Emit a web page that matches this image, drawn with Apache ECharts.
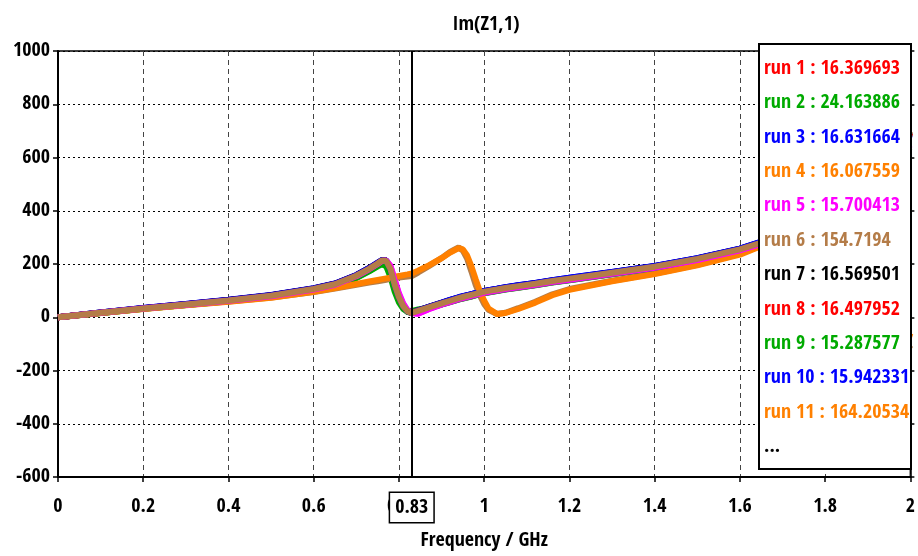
<!DOCTYPE html>
<html>
<head>
<meta charset="utf-8">
<script src="https://cdn.jsdelivr.net/npm/echarts@6/dist/echarts.min.js"></script>
<style>
  html, body { margin: 0; padding: 0; background: #fff; }
  #chart { width: 918px; height: 556px; }
</style>
</head>
<body>
<div id="chart"></div>
<script>
// Parameter sweep of Im(Z1,1) versus frequency; one curve per run.
const FONT = '"Open Sans Condensed", "Roboto Condensed", "Liberation Sans Narrow", sans-serif';

const freqGHz = [0, 0.1, 0.2, 0.3, 0.4, 0.5, 0.6, 0.65, 0.7, 0.73, 0.75, 0.76, 0.77, 0.78, 0.79, 0.8,
  0.81, 0.82, 0.83, 0.845, 0.87, 0.9, 0.92, 0.94, 0.95, 0.96, 0.97, 0.98, 0.99, 1.0, 1.01, 1.03,
  1.05, 1.08, 1.12, 1.16, 1.2, 1.3, 1.4, 1.5, 1.6, 1.7, 1.8, 1.86, 1.9, 1.93, 1.96, 2.0];

// Im(Z1,1) per run, same sample points as freqGHz
const run1 = [0, 17, 34, 49, 64, 82, 107, 125, 157, 183, 203, 213, 212, 181, 122, 75, 42, 22, 16.369693,
  25, 38, 53, 63, 73, 77, 81, 85, 89, 93, 97, 100, 105, 111, 118, 127, 137, 146, 168, 191, 220, 256, 306, 376, 432, 482, 542, 602, 692];
const run2 = [0, 16, 32, 46, 60, 77, 101, 118, 147, 172, 191, 199, 192, 152, 96, 56, 31, 21, 24.163886,
  29, 36, 48, 57, 66, 70, 74, 78, 82, 86, 90, 93, 98, 104, 111, 120, 130, 139, 161, 184, 212, 248, 297, 366, 420, 470, 528, 588, 640];
const run3 = [0, 18, 35, 50, 66, 84, 109, 127, 159, 185, 205, 215, 214, 183, 123, 76, 43, 23, 16.631664,
  26, 39, 55, 65, 75, 79, 83, 87, 91, 95, 99, 102, 107, 113, 120, 129, 139, 148, 170, 193, 222, 258, 309, 379, 435, 486, 546, 607, 690];
const run4 = [0, 17, 33, 48, 63, 80, 105, 123, 155, 181, 201, 211, 211, 180, 121, 74, 41, 21, 16.067559,
  24, 37, 51, 61, 71, 75, 79, 83, 87, 91, 95, 98, 103, 109, 116, 125, 135, 144, 166, 189, 218, 254, 304, 373, 428, 478, 537, 597, 688];
const run5 = [0, 17, 33, 47, 62, 79, 103, 121, 153, 179, 199, 210, 213, 194, 142, 90, 52, 27, 15.700413,
  13, 30, 47, 57, 67, 71, 75, 79, 83, 87, 91, 94, 99, 105, 112, 121, 131, 140, 162, 185, 214, 250, 299, 368, 423, 474, 532, 592, 645];
const run6 = [0, 16, 32, 46, 59, 74, 95, 108, 122, 130, 135, 138, 141, 144, 147, 149, 151, 153, 154.7194,
  168, 192, 222, 245, 262, 250, 220, 172, 122, 82, 50, 28, 12, 17, 34, 58, 86, 106, 137, 164, 197, 238, 305, 430, 580, 700, 260, -220, -105];
const run7 = [0, 18, 34, 49, 65, 83, 108, 126, 158, 184, 204, 214, 213, 182, 123, 76, 42, 22, 16.569501,
  25, 39, 54, 64, 74, 78, 82, 86, 90, 94, 98, 101, 106, 112, 119, 128, 138, 147, 169, 192, 221, 257, 308, 378, 434, 485, 545, 606, 696];
const run8 = [0, 17, 34, 49, 64, 82, 107, 125, 157, 183, 203, 213, 212, 181, 122, 75, 42, 22, 16.497952,
  25, 38, 53, 63, 73, 77, 81, 85, 89, 93, 97, 100, 105, 111, 118, 127, 137, 146, 168, 191, 220, 256, 307, 377, 433, 483, 543, 604, 694];
const run9 = [0, 16, 32, 46, 61, 78, 102, 119, 149, 174, 194, 203, 202, 172, 115, 70, 38, 20, 15.287577,
  22, 34, 48, 58, 67, 71, 75, 79, 83, 87, 91, 94, 99, 105, 112, 121, 131, 140, 162, 185, 213, 249, 298, 368, 422, 472, 530, 590, 635];
const run10 = [0, 18, 35, 50, 65, 83, 108, 126, 158, 184, 204, 214, 213, 182, 122, 75, 42, 22, 15.942331,
  25, 39, 54, 65, 75, 79, 83, 87, 91, 95, 99, 102, 107, 113, 120, 129, 139, 148, 170, 193, 222, 258, 309, 379, 435, 486, 546, 607, 685];
const run11 = [0, 16, 31, 45, 58, 73, 96, 110, 125, 134, 140, 143, 146, 149, 152, 155, 158, 161, 164.20534,
  175, 195, 222, 243, 260, 255, 232, 191, 143, 97, 62, 33, 12, 16, 31, 55, 83, 103, 135, 162, 195, 235, 300, 420, 560, 720, 320, -250, -60];
const run12 = [0, 17, 33, 47, 62, 79, 104, 122, 154, 180, 200, 211, 213, 192, 138, 86, 49, 25, 15.5,
  14, 31, 48, 58, 68, 72, 76, 80, 84, 88, 92, 95, 100, 106, 113, 122, 132, 141, 163, 186, 215, 251, 300, 370, 425, 476, 535, 596, 650];
const run13 = [0, 17, 33, 48, 63, 81, 106, 124, 156, 182, 202, 213, 212, 182, 122, 75, 42, 22, 16.2,
  24, 37, 52, 62, 72, 76, 80, 84, 88, 92, 96, 99, 104, 110, 117, 126, 136, 145, 167, 190, 219, 255, 305, 375, 430, 480, 540, 600, 700];

const runNames = ['run 1', 'run 2', 'run 3', 'run 4', 'run 5', 'run 6', 'run 7', 'run 8', 'run 9',
  'run 10', 'run 11', 'run 12', 'run 13'];
const runSeries = [run1, run2, run3, run4, run5, run6, run7, run8, run9, run10, run11, run12, run13];
const runColors = ['#ff0000', '#00aa00', '#0000ff', '#ff8000', '#ff00ff', '#b47c48', '#000000',
  '#ff0000', '#00aa00', '#0000ff', '#ff8000', '#ff00ff', '#b47c48'];

// Readout at the marker frequency, as listed in the key box
const markerFreq = 0.83;
const keyLabels = ['16.369693', '24.163886', '16.631664', '16.067559', '15.700413', '154.7194',
  '16.569501', '16.497952', '15.287577', '15.942331', '164.20534'];

const chart = echarts.init(document.getElementById('chart'), null, { renderer: 'canvas' });

const textBase = { color: '#000', fontFamily: FONT, fontWeight: 'bold', fontSize: 20 };

const series = runSeries.map((vals, i) => {
  const s = {
    name: runNames[i],
    type: 'line',
    data: freqGHz.map((f, k) => [f, vals[k]]),
    showSymbol: false,
    symbol: 'none',
    clip: false,
    silent: true,
    animation: false,
    color: runColors[i],
    lineStyle: { color: runColors[i], width: 6 },
    emphasis: { disabled: true }
  };
  if (i === 0) {
    s.markLine = {
      silent: true,
      animation: false,
      symbol: ['none', 'none'],
      lineStyle: { color: '#000', width: 2, type: 'solid' },
      label: {
        show: true,
        position: 'start',
        formatter: String(markerFreq),
        ...textBase,
        backgroundColor: '#fff',
        borderColor: '#000',
        borderWidth: 1.5,
        padding: [5, 5, 4, 5],
        distance: 16
      },
      data: [{ xAxis: markerFreq }]
    };
  }
  return s;
});

// Key box with the per-run readouts, drawn above the curves
const KEY_Z = 100;
const keyChildren = [{
  type: 'rect',
  z: KEY_Z,
  shape: { x: 0, y: 0, width: 152, height: 425 },
  style: { fill: '#fff', stroke: '#000', lineWidth: 2 }
}];
const keyTextStyle = { fontFamily: FONT, fontWeight: 'bold', fontSize: 20, verticalAlign: 'middle', align: 'left' };
keyLabels.forEach((v, i) => {
  keyChildren.push({
    type: 'text',
    z: KEY_Z + 1,
    x: 5,
    y: 24.5 + i * 34.4,
    style: { ...keyTextStyle, text: runNames[i] + ' : ' + v, fill: runColors[i] }
  });
});
keyChildren.push({
  type: 'text',
  z: KEY_Z + 1,
  x: 5,
  y: 24.5 + keyLabels.length * 34.4,
  style: { ...keyTextStyle, text: '...', fill: '#000' }
});

chart.setOption({
  backgroundColor: '#fff',
  animation: false,
  title: {
    text: 'Im(Z1,1)',
    left: 481,
    top: 10,
    textAlign: 'center',
    textStyle: { ...textBase }
  },
  grid: {
    left: 58, right: 3, top: 51, bottom: 78,
    show: true, backgroundColor: '#fff', borderColor: '#000', borderWidth: 1.5
  },
  xAxis: {
    type: 'value',
    min: 0, max: 2, interval: 0.2,
    name: 'Frequency / GHz',
    nameLocation: 'middle',
    nameGap: 54,
    nameTextStyle: { ...textBase },
    axisLine: { show: true, onZero: false, lineStyle: { color: '#000', width: 2 } },
    axisTick: { show: true, length: 5, lineStyle: { color: '#000', width: 1.5 } },
    axisLabel: { ...textBase, margin: 20, formatter: v => String(v) },
    splitLine: { show: true, lineStyle: { color: '#444', width: 1, type: [5, 4] } }
  },
  yAxis: [{
    type: 'value',
    min: -600, max: 1000, interval: 200,
    axisLine: { show: true, onZero: false, lineStyle: { color: '#000', width: 2 } },
    axisTick: { show: true, length: 5, lineStyle: { color: '#000', width: 1.5 } },
    axisLabel: { ...textBase, margin: 8, formatter: v => String(v) },
    splitLine: { show: true, lineStyle: { color: '#000', width: 1, type: [2, 3] } }
  }, {
    type: 'value',
    position: 'right',
    min: -600, max: 1000, interval: 200,
    axisLine: { show: true, onZero: false, lineStyle: { color: '#000', width: 1.5 } },
    axisTick: { show: true, length: 4, lineStyle: { color: '#000', width: 1.5 } },
    axisLabel: { show: false },
    splitLine: { show: false }
  }],
  graphic: [{
    type: 'group',
    left: 758,
    top: 43,
    z: KEY_Z,
    children: keyChildren
  }],
  series: series
});
</script>
</body>
</html>
